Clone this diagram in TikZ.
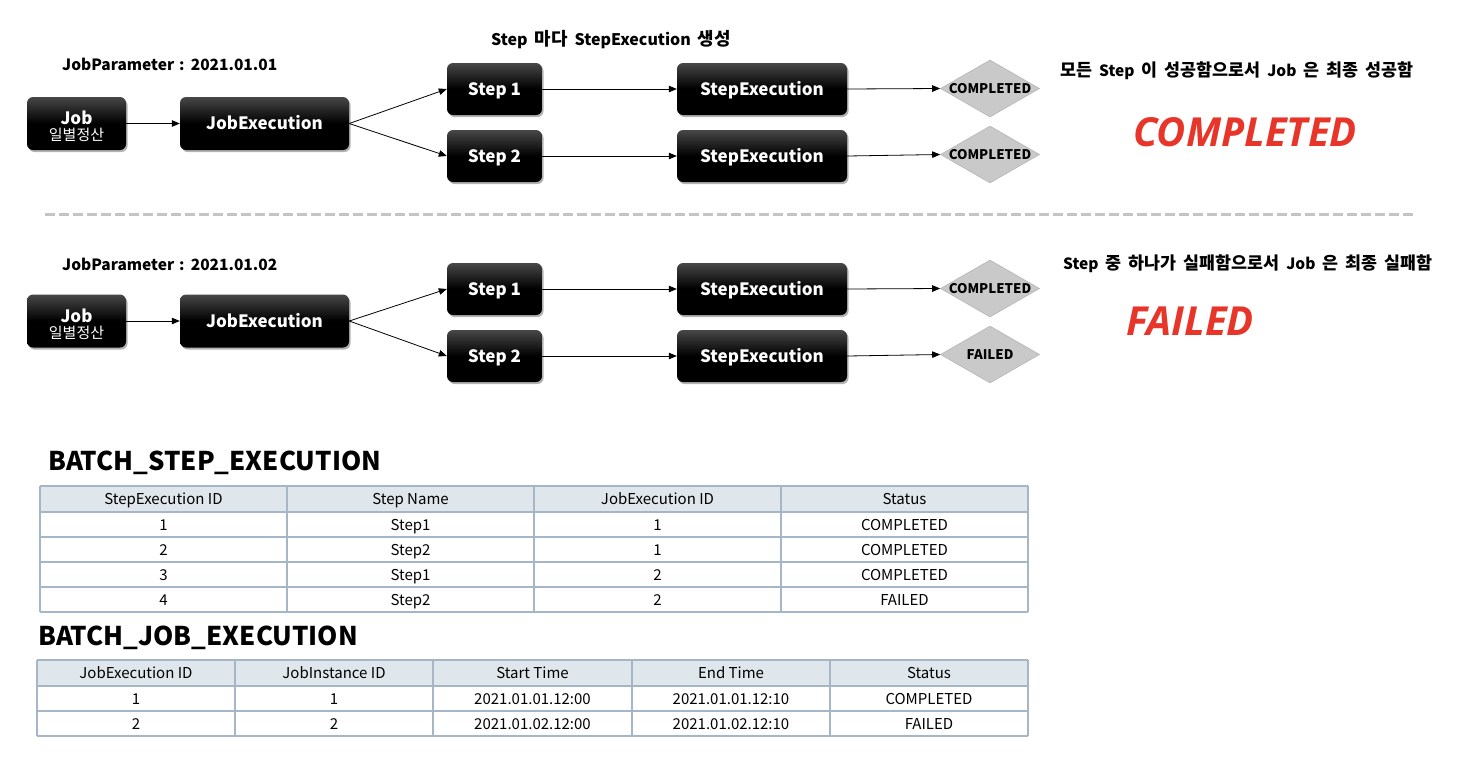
\documentclass[tikz,border=0pt]{standalone}
\usepackage{fontspec}
\setmainfont{Noto Sans CJK KR}
\newfontfamily\kr{Noto Sans CJK KR}[Scale=1.12]
\newfontfamily\redfont{Open Sans}
\usetikzlibrary{shapes.geometric,shadows,arrows.meta}
\definecolor{redc}{HTML}{E8352A}
\definecolor{diafill}{HTML}{C9C9C9}
\definecolor{diaedge}{HTML}{B5B5B5}
\definecolor{hdrfill}{HTML}{DFE6EC}
\definecolor{tblline}{HTML}{A5B7C6}
\definecolor{dashc}{HTML}{C4C4C4}
\newcommand{\fs}[1]{\fontsize{#1}{#1}\selectfont}
\newcommand{\wsp}{\spaceskip 7pt\relax}
\newcommand{\wspp}{\spaceskip 5pt\relax}
\newcommand{\dn}[1]{\raisebox{-3pt}[\height][\depth]{#1}}
\tikzset{
  blk/.style={rounded corners=6, top color=black!72, bottom color=black, middle color=black,
    text=white, font=\fs{17}\bfseries, inner sep=0, align=center,
    drop shadow={shadow xshift=1.5pt, shadow yshift=-2pt, opacity=0.3, fill=black}},
  one/.style={text height=12.4pt, text depth=0pt},
  dia/.style={diamond, fill=diafill, draw=diaedge, line width=0.6, inner sep=0,
    minimum width=99, minimum height=57},
  dialbl/.style={font=\fs{13.3}\bfseries, inner sep=0, text height=9.7pt, text depth=0pt},
  arr/.style={-{Triangle[length=8,width=6.5]}, line width=0.8, black},
  note/.style={font=\fs{15.5}\bfseries\wsp, anchor=west, inner sep=0},
  param/.style={font=\fs{15.5}\bfseries\wspp, anchor=west, inner sep=0},
  big/.style={font=\redfont\fs{40}\bfseries\itshape, text=redc, inner sep=0},
  ttl/.style={font=\fs{25.8}\bfseries, anchor=west, inner sep=0},
  cell/.style={font=\fs{15}, inner sep=0, text height=11pt, text depth=0pt},
}
\begin{document}
\begin{tikzpicture}[x=1pt,y=-1pt]
\useasboundingbox (0,0) rectangle (1462,756);

\node[font=\fs{16}\bfseries\wsp, inner sep=0] (cap) at (611,40)
  {Step {\kr 마다} StepExecution {\kr 생성}};

% ---------- top section ----------
\node[param] (jp1) at (62,64) {JobParameter : 2021.01.01};
\node[blk, minimum width=99, minimum height=53] (job1) at (76.5,123.5)
  {\dn{Job}\\[-1pt]{\fs{15}\mdseries\dn{일별정산}}};
\node[blk, one, minimum width=169, minimum height=53] (je1) at (264.5,123.5) {JobExecution};
\node[blk, one, minimum width=95, minimum height=52] (s11) at (494.5,89) {Step 1};
\node[blk, one, minimum width=95, minimum height=52] (s12) at (494.5,156) {Step 2};
\node[blk, one, minimum width=170, minimum height=52] (se11) at (762,89) {StepExecution};
\node[blk, one, minimum width=170, minimum height=52] (se12) at (762,156) {StepExecution};
\node[dia] (d11) at (990,88.5) {};
\node[dialbl] at (d11) {COMPLETED};
\node[dia] (d12) at (990,154.5) {};
\node[dialbl] at (d12) {COMPLETED};
\draw[arr] (job1) -- (je1);
\draw[arr] (je1.east) -- (s11.west);
\draw[arr] (je1.east) -- (s12.west);
\draw[arr] (s11) -- (se11);
\draw[arr] (s12) -- (se12);
\draw[arr] (se11.east) -- (d11.west);
\draw[arr] (se12.east) -- (d12.west);
\node[note] (n1) at (1060,71) {{\kr 모든} Step {\kr 이 성공함으로서} Job {\kr 은 최종 성공함}};
\node[big] (r1) at (1245,132) {COMPLETED};

% ---------- separator ----------
\coordinate (dl) at (45,214);
\coordinate (dr) at (1415,214);
\draw[dashc, line width=3, dash pattern=on 10pt off 4pt] (dl) -- (dr);

% ---------- bottom section ----------
\node[param] (jp2) at (62,264) {JobParameter : 2021.01.02};
\node[blk, minimum width=99, minimum height=53] (job2) at (76.5,321)
  {\dn{Job}\\[-1pt]{\fs{15}\mdseries\dn{일별정산}}};
\node[blk, one, minimum width=169, minimum height=53] (je2) at (264.5,321) {JobExecution};
\node[blk, one, minimum width=95, minimum height=52] (s21) at (494.5,289) {Step 1};
\node[blk, one, minimum width=95, minimum height=52] (s22) at (494.5,356) {Step 2};
\node[blk, one, minimum width=170, minimum height=52] (se21) at (762,289) {StepExecution};
\node[blk, one, minimum width=170, minimum height=52] (se22) at (762,356) {StepExecution};
\node[dia] (d21) at (990,288.5) {};
\node[dialbl] at (d21) {COMPLETED};
\node[dia] (d22) at (990,354.5) {};
\node[dialbl] at (d22) {FAILED};
\draw[arr] (job2) -- (je2);
\draw[arr] (je2.east) -- (s21.west);
\draw[arr] (je2.east) -- (s22.west);
\draw[arr] (s21) -- (se21);
\draw[arr] (s22) -- (se22);
\draw[arr] (se21.east) -- (d21.west);
\draw[arr] (se22.east) -- (d22.west);
\node[note] (n2) at (1063,264) {Step {\kr 중 하나가 실패함으로서} Job {\kr 은 최종 실패함}};
\node[big] (r2) at (1190,321) {FAILED};

% ---------- table 1 ----------
\node[ttl] (t1) at (48,463) {BATCH\_STEP\_EXECUTION};
\fill[hdrfill] (40,486) rectangle (1028,512);
\foreach \y in {486,512,537,562,587,612} \draw[tblline, line width=1.2] (40,\y) -- (1028,\y);
\foreach \x in {40,287,534,781,1028} \draw[tblline, line width=1.2] (\x,486) -- (\x,612);
\foreach \t [count=\i from 0] in {StepExecution ID,Step Name,JobExecution ID,Status}
  \node[cell] at (163.5+247*\i,499) {\t};
\foreach \a/\b/\c/\d [count=\r from 0] in {1/Step1/1/COMPLETED,2/Step2/1/COMPLETED,3/Step1/2/COMPLETED,4/Step2/2/FAILED}{
  \node[cell] at (163.5,524.5+25*\r) {\a};
  \node[cell] at (410.5,524.5+25*\r) {\b};
  \node[cell] at (657.5,524.5+25*\r) {\c};
  \node[cell] at (904.5,524.5+25*\r) {\d};
}

% ---------- table 2 ----------
\node[ttl] (t2) at (38,638) {BATCH\_JOB\_EXECUTION};
\fill[hdrfill] (37,660) rectangle (1028,686);
\foreach \y in {660,686,711,736} \draw[tblline, line width=1.2] (37,\y) -- (1028,\y);
\foreach \x in {37,235,433,632,830,1028} \draw[tblline, line width=1.2] (\x,660) -- (\x,736);
\foreach \t/\cx in {JobExecution ID/136,JobInstance ID/334,Start Time/532.5,End Time/731,Status/929}
  \node[cell] at (\cx,673) {\t};
\foreach \cx/\a/\b in {136/1/2,334/1/2,532.5/2021.01.01.12:00/2021.01.02.12:00,731/2021.01.01.12:10/2021.01.02.12:10,929/COMPLETED/FAILED}{
  \node[cell] at (\cx,698.5) {\a};
  \node[cell] at (\cx,723.5) {\b};
}
\end{tikzpicture}
\end{document}
